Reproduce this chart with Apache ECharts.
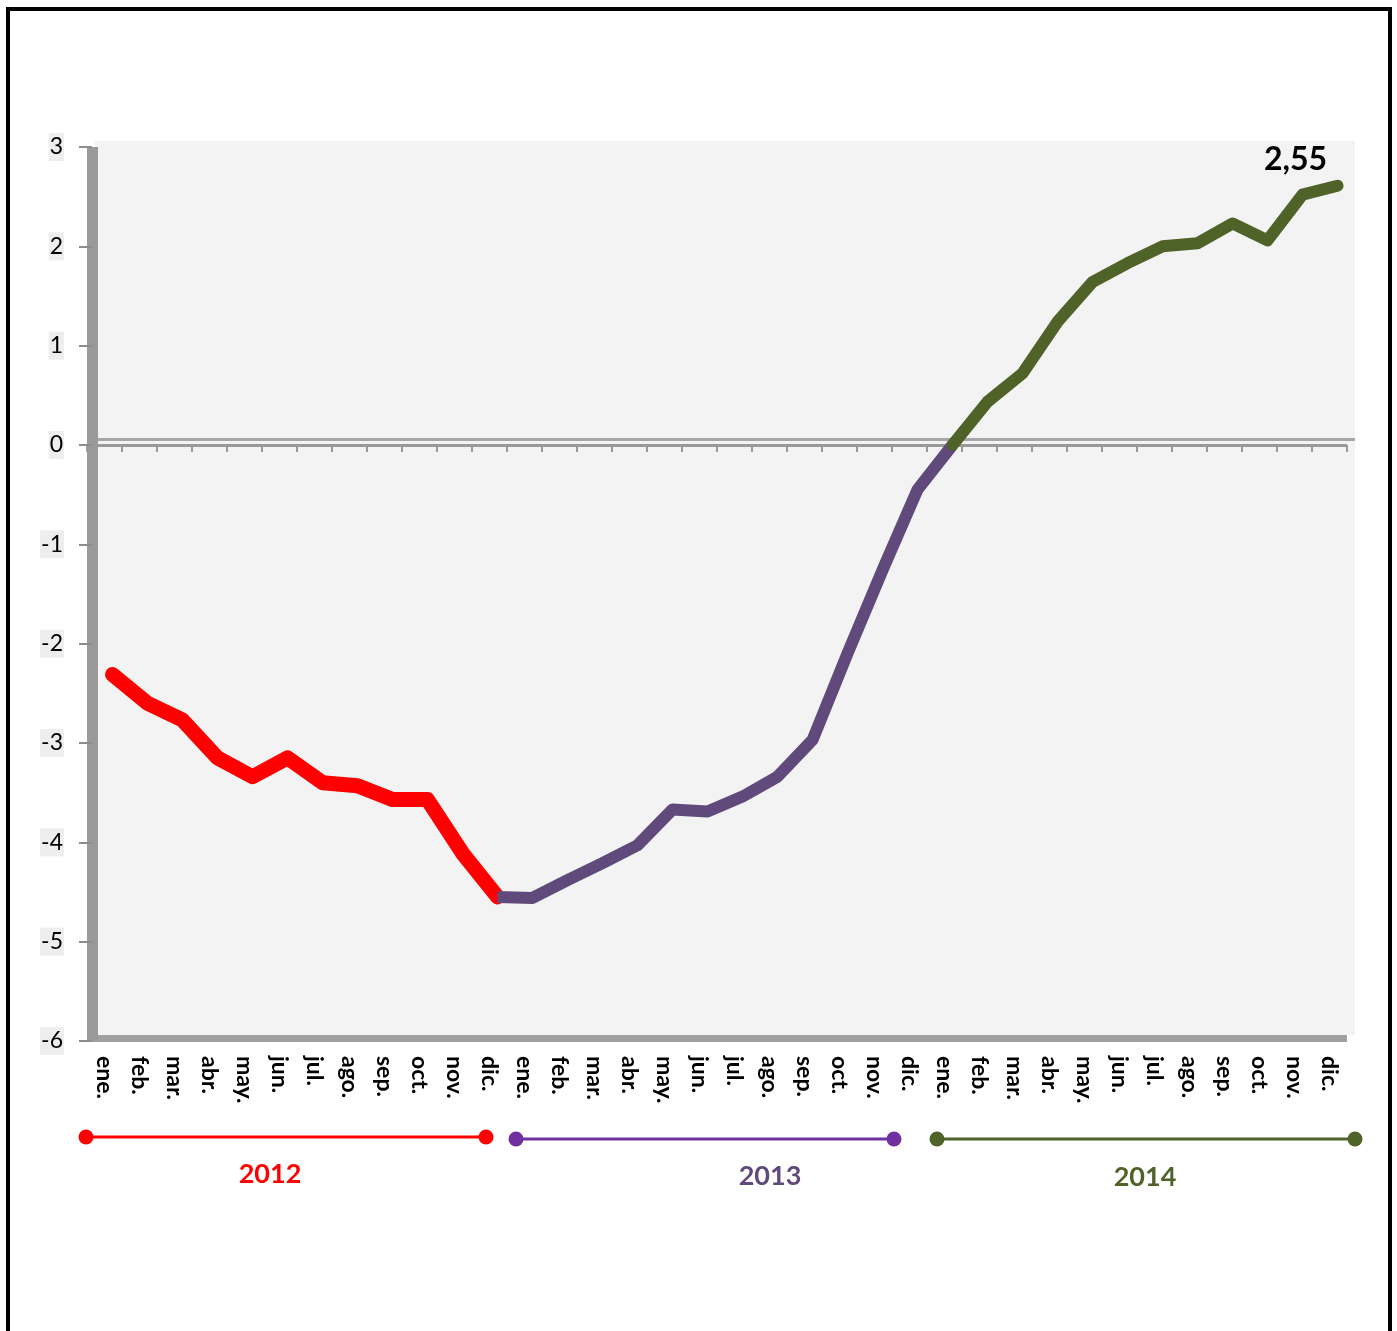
<!DOCTYPE html>
<html>
<head>
<meta charset="utf-8">
<script src="https://cdn.jsdelivr.net/npm/echarts@6/dist/echarts.min.js"></script>
<style>
html,body{margin:0;padding:0;background:#fff;}
#c{width:1397px;height:1331px;}
</style>
</head>
<body>
<div id="c"></div>
<script>
const months = ['ene.','feb.','mar.','abr.','may.','jun.','jul.','ago.','sep.','oct.','nov.','dic.'];
const years = ['2012','2013','2014'];
const values2012 = [-2.37, -2.66, -2.83, -3.21, -3.40, -3.21, -3.46, -3.49, -3.63, -3.63, -4.17, -4.61];
const values2013 = [-4.62, -4.44, -4.27, -4.09, -3.73, -3.75, -3.60, -3.40, -3.03, -2.16, -1.32, -0.51];
const values2014 = [-0.06, 0.375, 0.66, 1.18, 1.58, 1.77, 1.94, 1.97, 2.17, 2.00, 2.46, 2.55];
const yTicks = { min: -6, max: 3, interval: 1 };

const colors = { y2012: '#ff0000', y2013: '#604a7b', y2014: '#4f6228', bracket2013: '#7030a0' };

const categories = [];
years.forEach(y => months.forEach(m => categories.push(m + '|' + y)));
const n = categories.length;

const all = values2012.concat(values2013, values2014);
const s2012 = all.map((v, i) => (i <= 11 ? v : '-'));
const s2013 = all.map((v, i) => (i >= 11 && i <= 24 ? v : '-'));
const s2014 = all.map((v, i) => {
  if (i < 24) return '-';
  if (i === n - 1) return { value: v, label: { show: true } };
  return v;
});

const font = 'Lato, "Open Sans", sans-serif';
const chart = echarts.init(document.getElementById('c'), null, { renderer: 'canvas' });

const option = {
  animation: false,
  backgroundColor: '#ffffff',
  grid: [
    { left: 87, top: 147, width: 1260, height: 894, show: false },
    { left: 95, top: 141, width: 1260, height: 894, show: true, backgroundColor: '#f3f3f3', borderWidth: 0, z: -1 }
  ],
  xAxis: [
    { // front floor + labels
      type: 'category', gridIndex: 0, position: 'bottom', data: categories, offset: -3,
      axisLine: { onZero: false, lineStyle: { color: '#a0a0a0', width: 7, cap: 'butt' } },
      axisTick: { show: false },
      axisLabel: {
        interval: 0, rotate: -90, margin: 18, color: '#000',
        fontFamily: font, fontSize: 23, fontWeight: 'bold',
        formatter: v => v.split('|')[0]
      },
      splitLine: { show: false }
    },
    { // front zero line
      type: 'category', gridIndex: 0, position: 'top', data: categories,
      axisLine: { onZero: true, lineStyle: { color: '#999', width: 3, cap: 'butt' } },
      axisTick: { show: true, interval: 0, inside: true, length: 7, lineStyle: { color: '#999', width: 2 } },
      axisLabel: { show: false, interval: 0 },
      splitLine: { show: false }
    },
    { // back axis (data)
      type: 'category', gridIndex: 1, position: 'bottom', data: categories,
      axisLine: { onZero: true, lineStyle: { color: '#a6a6a6', width: 3, cap: 'butt' } },
      axisTick: { show: false },
      axisLabel: { show: false },
      splitLine: { show: false }
    }
  ],
  yAxis: [
    {
      type: 'value', gridIndex: 0, min: yTicks.min, max: yTicks.max, interval: yTicks.interval,
      offset: -5,
      axisLine: { show: true, onZero: false, lineStyle: { color: '#9a9a9a', width: 11, cap: 'butt' } },
      axisTick: { show: true, length: 13, lineStyle: { color: '#8c8c8c', width: 2 } },
      axisLabel: {
        margin: 28, color: '#000', fontFamily: font, fontSize: 23,
        backgroundColor: '#eeeeee', padding: [3, 1, 2, 1]
      },
      splitLine: { show: false },
      z: 5
    },
    {
      type: 'value', gridIndex: 1, min: yTicks.min, max: yTicks.max, interval: yTicks.interval,
      axisLine: { show: false }, axisTick: { show: false }, axisLabel: { show: false },
      splitLine: { show: false }
    }
  ],
  series: [
    {
      name: '2012', type: 'line', xAxisIndex: 2, yAxisIndex: 1, data: s2012,
      symbol: 'none',
      lineStyle: { color: colors.y2012, width: 15, cap: 'round', join: 'round' }
    },
    {
      name: '2013', type: 'line', xAxisIndex: 2, yAxisIndex: 1, data: s2013,
      symbol: 'none',
      lineStyle: { color: colors.y2013, width: 12, cap: 'butt', join: 'round' }
    },
    {
      name: '2014', type: 'line', xAxisIndex: 2, yAxisIndex: 1, data: s2014,
      symbol: 'circle', symbolSize: 2, showSymbol: true, showAllSymbol: true,
      itemStyle: { color: colors.y2014 },
      lineStyle: { color: colors.y2014, width: 12, cap: 'round', join: 'round' },
      label: {
        show: false, position: 'top', offset: [-42, -4],
        fontFamily: font, fontSize: 32, fontWeight: 'bold', color: '#000',
        formatter: p => String(p.value).replace('.', ',')
      }
    }
  ],
  graphic: [
    { type: 'rect', shape: { x: 8, y: 9, width: 1382, height: 1400 }, style: { fill: 'none', stroke: '#000', lineWidth: 4 }, z: 100 },
    // 2012 bracket
    { type: 'line', shape: { x1: 86, y1: 1137, x2: 486, y2: 1137 }, style: { stroke: colors.y2012, lineWidth: 3 } },
    { type: 'circle', shape: { cx: 86, cy: 1137, r: 7.5 }, style: { fill: colors.y2012 } },
    { type: 'circle', shape: { cx: 486, cy: 1137, r: 7.5 }, style: { fill: colors.y2012 } },
    { type: 'text', x: 270, y: 1174, style: { text: years[0], fill: colors.y2012, font: 'bold 27px ' + font, textAlign: 'center', textVerticalAlign: 'middle' } },
    // 2013 bracket
    { type: 'line', shape: { x1: 516, y1: 1139, x2: 894, y2: 1139 }, style: { stroke: colors.bracket2013, lineWidth: 3 } },
    { type: 'circle', shape: { cx: 516, cy: 1139, r: 7.5 }, style: { fill: colors.bracket2013 } },
    { type: 'circle', shape: { cx: 894, cy: 1139, r: 7.5 }, style: { fill: colors.bracket2013 } },
    { type: 'text', x: 770, y: 1176, style: { text: years[1], fill: colors.y2013, font: 'bold 27px ' + font, textAlign: 'center', textVerticalAlign: 'middle' } },
    // 2014 bracket
    { type: 'line', shape: { x1: 937, y1: 1139, x2: 1355, y2: 1139 }, style: { stroke: colors.y2014, lineWidth: 3 } },
    { type: 'circle', shape: { cx: 937, cy: 1139, r: 7.5 }, style: { fill: colors.y2014 } },
    { type: 'circle', shape: { cx: 1355, cy: 1139, r: 7.5 }, style: { fill: colors.y2014 } },
    { type: 'text', x: 1145, y: 1177, style: { text: years[2], fill: colors.y2014, font: 'bold 27px ' + font, textAlign: 'center', textVerticalAlign: 'middle' } }
  ]
};
chart.setOption(option);
</script>
</body>
</html>
